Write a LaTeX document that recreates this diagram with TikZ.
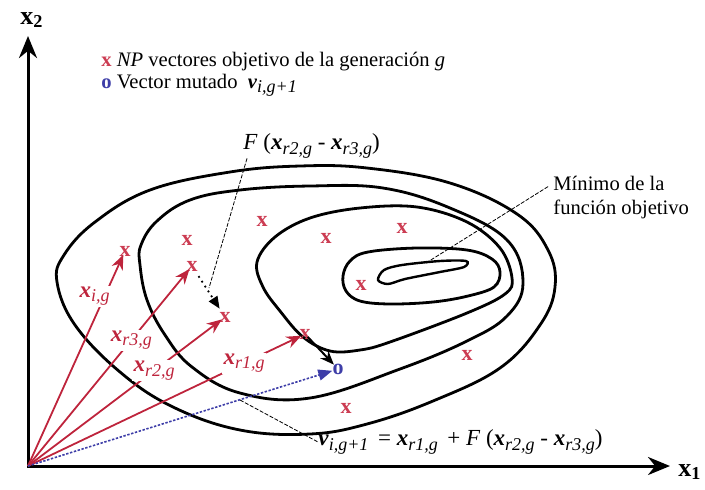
\documentclass[tikz,border=0pt]{standalone}
\usepackage{fontspec}
\setmainfont{Liberation Serif}
\usetikzlibrary{arrows.meta,positioning}
\definecolor{rayred}{RGB}{190,36,60}
\definecolor{markred}{RGB}{204,60,82}
\definecolor{mutblue}{RGB}{62,62,168}
\newcommand{\sbs}[1]{\raisebox{-0.4ex}{\fontsize{9}{10}\selectfont\textit{#1}}}
\newcommand{\xsub}[1]{\textbf{\textit{x}}\sbs{#1}}
\newcommand{\vsub}[1]{\textbf{\textit{v}}\sbs{#1}}

\begin{document}
\begin{tikzpicture}[x=0.5pt, y=-0.5pt, font=\fontsize{10.3}{12}\selectfont,
  axis/.style={line width=1.5pt, {Stealth[length=11pt,width=9pt]}-{Stealth[length=11pt,width=9pt]}},
  level/.style={line width=1.4pt},
  ray/.style={rayred, line width=0.9pt, -{Stealth[length=7.5pt,width=6pt]}, shorten >=2pt},
  mutray/.style={mutblue, line width=0.8pt, dash pattern=on 1.2pt off 0.8pt, -{Triangle[length=7pt,width=5.5pt]}, shorten >=3pt},
  diffarrow/.style={line width=1pt, -{Stealth[length=7pt,width=5.5pt]}, shorten >=3pt, shorten <=2pt},
  diffdot/.style={line width=0.9pt, dotted, -{Triangle[length=6pt,width=5pt]}, shorten <=6pt, shorten >=5pt},
  ptx/.style={text=markred, font=\fontsize{11}{12}\selectfont\bfseries, inner sep=0pt},
  mathlbl/.style={font=\fontsize{11.5}{13}\selectfont},
  lbl/.style={mathlbl, fill=white, inner sep=0.6pt},
  leader/.style={line width=0.4pt, dash pattern=on 2pt off 0.8pt}]

\useasboundingbox (0,0) rectangle (705,489);

% axes
\coordinate (O) at (28,466);
\coordinate (x2end) at (28,36);
\coordinate (x1end) at (670,466);
\draw[axis] (x2end) -- (O) -- (x1end);
\node[font=\fontsize{13}{15}\selectfont\bfseries] (x2lbl) at (32,20) {x\textsubscript{2}};
\node[font=\fontsize{13}{15}\selectfont\bfseries] (x1lbl) at (690,472) {x\textsubscript{1}};

% legend
\node[anchor=west, inner sep=0pt] (leg1) at (101,62)
  {\textcolor{markred}{\textbf{x}} \textit{NP} vectores objetivo de la generación \textit{g}};
\node[below=1pt of leg1.south west, anchor=north west, inner sep=0pt] (leg2)
  {\textcolor{mutblue}{\textbf{o}} Vector mutado \ \vsub{i,g+1}};

% level curves of the objective function
\draw[level] plot[smooth cycle, tension=0.65] coordinates {
  (57,282) (75,325) (120,372) (173,407) (240,430) (310,434) (367,424) (433,401)
  (500,368) (540,325) (555,287) (548,250) (517,214) (450,183) (367,168) (300,166)
  (230,172) (150,190) (95,222) (64,255)};
\draw[level] plot[smooth cycle, tension=0.65] coordinates {
  (140,265) (147,300) (165,335) (192,367) (240,393) (310,398) (400,369) (467,341)
  (507,316) (523,283) (507,240) (450,208) (383,188) (310,186) (240,190) (190,200)
  (157,221) (141,245)};
\draw[level] plot[smooth cycle, tension=0.6] coordinates {
  (257,262) (263,287) (280,311) (303,337) (330,351) (360,350) (390,342) (467,313)
  (505,294) (512,278) (500,248) (467,222) (417,207) (360,208) (310,218) (275,237)};
\draw[level] plot[smooth cycle, tension=0.6] coordinates {
  (343,276) (350,261) (368,252) (417,248) (467,250) (492,259) (500,272) (494,287)
  (468,296) (433,302) (390,304) (360,301) (346,291)};
\draw[level, line width=1.2pt] plot[smooth cycle, tension=0.5] coordinates {
  (378,280) (384,270) (402,265) (440,261) (466,261) (464,267) (440,272) (405,279)
  (388,284)};

% target vectors of generation g
\node[ptx] (xig) at (125,251) {x};
\node[ptx] (xr3) at (192,266) {x};
\node[ptx] (xr2) at (225,317) {x};
\node[ptx] (xr1) at (305,334) {x};
\node[ptx] (pa) at (187,240) {x};
\node[ptx] (pb) at (262,221) {x};
\node[ptx] (pc) at (326,238) {x};
\node[ptx] (pd) at (402,228) {x};
\node[ptx] (pe) at (361,285) {x};
\node[ptx] (pf) at (467,355) {x};
\node[ptx] (pg) at (346,408) {x};

% mutant vector
\node[text=mutblue, font=\fontsize{11}{12}\selectfont\bfseries, inner sep=0pt] (mut) at (338,369) {o};

% vectors from the origin
\draw[ray] (O) -- node[lbl, pos=0.79, xshift=-5pt] {\xsub{i,g}} (xig.center);
\draw[ray] (O) -- node[lbl, pos=0.63] {\xsub{r3,g}} (xr3.center);
\draw[ray] (O) -- node[lbl, pos=0.64] {\xsub{r2,g}} (xr2.center);
\draw[ray] (O) -- node[lbl, pos=0.78] {\xsub{r1,g}} (xr1.center);
\draw[mutray] (O) -- (mut.center);

% difference vector and mutation step
\draw[diffdot] (xr3.center) -- (xr2.center);
\draw[diffarrow] (xr1.center) -- (mut.center);

% annotations
\node[mathlbl, anchor=west, inner sep=0pt] (flbl) at (243,146)
  {\textit{F} (\xsub{r2,g} - \xsub{r3,g})};
\coordinate (fend) at (209,288);
\draw[leader] ([xshift=2pt]flbl.south west) -- (fend);

\node[anchor=west, align=left, inner sep=0pt] (minlbl) at (553,198)
  {Mínimo de la\\función objetivo};
\coordinate (minpt) at (426,263);
\coordinate (minend) at (549,186);
\draw[leader] (minpt) -- (minend);

\node[mathlbl, anchor=west, inner sep=0pt] (form) at (318,442)
  {\vsub{i,g+1} \,= \xsub{r1,g} \,+ \textit{F} (\xsub{r2,g} - \xsub{r3,g})};
\coordinate (vpt) at (240,400);
\draw[leader] (vpt) -- (form.west);
\end{tikzpicture}
\end{document}
